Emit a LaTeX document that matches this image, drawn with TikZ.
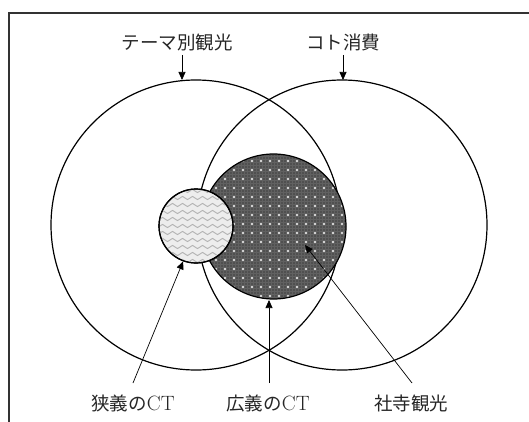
\documentclass[tikz,border=0pt]{standalone}
\usepackage{fontspec}
\newfontfamily\jp{Noto Sans CJK JP}
\usetikzlibrary{arrows.meta,patterns.meta}
\tikzdeclarepattern{name=wdots,type=uncolored,bounding box={(-5pt,-5pt) and (5pt,5pt)},tile size={(9pt,9pt)},code={\fill (0pt,0pt) circle (1.1pt);}}
\tikzdeclarepattern{name=fdots,type=uncolored,bounding box={(-1.5pt,-1.5pt) and (1.5pt,1.5pt)},tile size={(3pt,3pt)},code={\fill (0pt,0pt) circle (0.6pt);}}
\tikzdeclarepattern{name=waves,type=uncolored,bounding box={(0pt,-3.5pt) and (10pt,3.5pt)},tile size={(10pt,7pt)},code={\draw[line width=0.9pt] (0pt,0pt) sin (2.5pt,1.6pt) cos (5pt,0pt) sin (7.5pt,-1.6pt) cos (10pt,0pt);}}
\tikzset{
  big/.style={circle,draw,line width=1.2pt,inner sep=0pt,minimum size=290pt},
  lbl/.style={font=\fontsize{18.5pt}{20pt}\selectfont,text=black!85,inner sep=0pt},
  arr/.style={line width=0.7pt,-{Triangle[length=8pt,width=7pt]}},
  frame/.style={line width=1.3pt,black!80}
}
\newcommand\ctxt{\scalebox{1.12}{CT}}
\begin{document}
\begin{tikzpicture}[x=1pt,y=-1pt]
\useasboundingbox (0,0) rectangle (529,422);
\draw[frame] (529,13) -- (9,13) -- (9,422);
% big circles
\node[big] (cL) at (196,225) {};
\node[big] (cR) at (342,225) {};
% shrine circle
\node[circle,draw,line width=1.2pt,inner sep=0pt,minimum size=145pt,fill=black!62] (dark) at (273.5,226.5) {};
\fill[pattern=fdots,pattern color=black!90] (273.5,226.5) circle (71.5pt);
\fill[pattern=wdots,pattern color=white] (273.5,226.5) circle (71.5pt);
% narrow CT circle
\node[circle,draw,line width=1.2pt,inner sep=0pt,minimum size=74pt,fill=black!7] (small) at (196,226) {};
\fill[pattern=waves,pattern color=black!30] (196,226) circle (36pt);
\draw[line width=1.2pt] (196,226) circle (37pt);
% top labels
\node[lbl] (tA) at (177,42) {\jp テーマ別観光};
\node[lbl] (tB) at (343,42) {\jp コト消費};
\coordinate (tAs) at (182,55);
\coordinate (tBs) at (343,55);
\coordinate (cLt) at (182,80);
\coordinate (cRt) at (343,80);
\draw[arr] (tAs) -- (cLt);
\draw[arr] (tBs) -- (cRt);
% bottom labels
\node[lbl] (bA) at (133,403) {{\jp 狭義の}\ctxt};
\node[lbl] (bB) at (268,403) {{\jp 広義の}\ctxt};
\node[lbl] (bC) at (411,403) {\jp 社寺観光};
\coordinate (bAs) at (133,383);
\coordinate (bBs) at (269,383);
\coordinate (bCs) at (412,383);
\coordinate (shr) at (305,245);
\draw[arr] (bAs) -- (small.250);
\draw[arr] (bBs) -- (269,300);
\draw[arr] (bCs) -- (shr);
\end{tikzpicture}
\end{document}
